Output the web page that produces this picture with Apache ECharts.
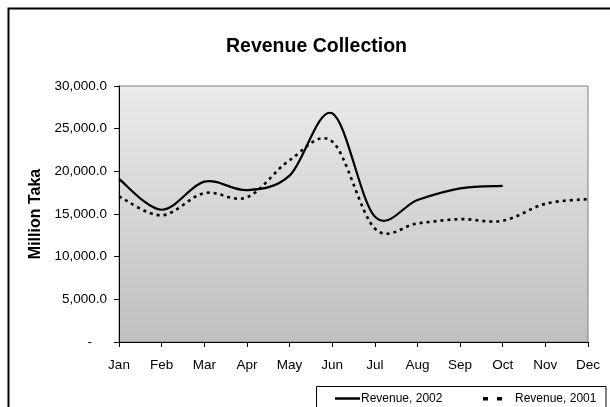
<!DOCTYPE html>
<html>
<head>
<meta charset="utf-8">
<script src="https://cdn.jsdelivr.net/npm/echarts@6/dist/echarts.min.js"></script>
<style>
  html, body { margin: 0; padding: 0; background: #fff; }
  #chart { width: 610px; height: 407px; }
</style>
</head>
<body>
<div id="chart"></div>
<script>
// Monthly revenue collection, million Taka
const months = ['Jan', 'Feb', 'Mar', 'Apr', 'May', 'Jun', 'Jul', 'Aug', 'Sep', 'Oct', 'Nov', 'Dec'];
const revenue2002 = [19100, 15500, 18800, 17800, 19500, 26800, 14700, 16650, 18000, 18300, null, null];
const revenue2001 = [17050, 14850, 17450, 16950, 21300, 23500, 13300, 13900, 14400, 14200, 16200, 16750];
const seriesNames = ['Revenue, 2002', 'Revenue, 2001'];
const yTicks = [0, 5000, 10000, 15000, 20000, 25000, 30000];

const font = 'Arial, "Liberation Sans", sans-serif';

function fmt(v) {
  if (v === 0) return '-    ';
  return v.toLocaleString('en-US', { minimumFractionDigits: 1, maximumFractionDigits: 1 });
}

// Smooth curve through every point (Catmull-Rom converted to cubic Bezier),
// with coordinates taken from the chart's own axes.
function smoothRenderer(values, lineStyle) {
  return function (params, api) {
    if (params.dataIndex !== 0) return null;
    const pts = [];
    values.forEach(function (v, i) {
      if (v !== null && v !== undefined) pts.push(api.coord([i, v]));
    });
    if (pts.length < 2) return null;
    let d = 'M' + pts[0][0] + ' ' + pts[0][1];
    for (let i = 0; i < pts.length - 1; i++) {
      const p0 = pts[Math.max(i - 1, 0)];
      const p1 = pts[i];
      const p2 = pts[i + 1];
      const p3 = pts[Math.min(i + 2, pts.length - 1)];
      const c1x = p1[0] + (p2[0] - p0[0]) / 6;
      const c1y = p1[1] + (p2[1] - p0[1]) / 6;
      const c2x = p2[0] - (p3[0] - p1[0]) / 6;
      const c2y = p2[1] - (p3[1] - p1[1]) / 6;
      d += ' C' + c1x + ' ' + c1y + ' ' + c2x + ' ' + c2y + ' ' + p2[0] + ' ' + p2[1];
    }
    return {
      type: 'path',
      shape: { pathData: d },
      style: Object.assign({ fill: null, stroke: '#000' }, lineStyle)
    };
  };
}

const chart = echarts.init(document.getElementById('chart'));
chart.setOption({
  animation: false,
  backgroundColor: '#fff',
  textStyle: { fontFamily: font, color: '#000' },
  title: {
    text: 'Revenue Collection',
    left: 221,
    top: 32,
    textStyle: { fontFamily: font, fontSize: 19.5, fontWeight: 'bold', color: '#000' }
  },
  graphic: [
    // chart frame
    { type: 'rect', shape: { x: 8.5, y: 8.5, width: 640, height: 440 },
      style: { fill: null, stroke: '#000', lineWidth: 2 }, silent: true, z: 100 },
    // legend box with its two keys
    { type: 'group', silent: true, z: 100, children: [
      { type: 'rect', shape: { x: 316.5, y: 386.5, width: 289.5, height: 40 },
        style: { fill: '#fff', stroke: '#000', lineWidth: 1 } },
      { type: 'line', shape: { x1: 335, y1: 398.5, x2: 360, y2: 398.5 },
        style: { stroke: '#000', lineWidth: 2.5 } },
      { type: 'text', x: 361, y: 399,
        style: { text: seriesNames[0], font: '12px ' + font, fill: '#000', textVerticalAlign: 'middle' } },
      { type: 'rect', shape: { x: 483, y: 397, width: 5, height: 3.5 }, style: { fill: '#000' } },
      { type: 'rect', shape: { x: 497, y: 397, width: 5, height: 3.5 }, style: { fill: '#000' } },
      { type: 'text', x: 515, y: 399,
        style: { text: seriesNames[1], font: '12px ' + font, fill: '#000', textVerticalAlign: 'middle' } }
    ] }
  ],
  grid: {
    left: 119,
    right: 22,
    top: 86,
    bottom: 65,
    show: true,
    borderColor: '#808080',
    borderWidth: 1,
    backgroundColor: new echarts.graphic.LinearGradient(0, 0, 0, 1, [
      { offset: 0, color: '#ebebeb' },
      { offset: 1, color: '#bfbfbf' }
    ])
  },
  xAxis: {
    type: 'category',
    data: months,
    boundaryGap: false,
    axisLine: { lineStyle: { color: '#000', width: 1 } },
    axisTick: { show: true, length: 5, lineStyle: { color: '#000' } },
    axisLabel: { fontFamily: font, fontSize: 13.5, color: '#000', margin: 16 },
    splitLine: { show: false }
  },
  yAxis: {
    type: 'value',
    min: 0,
    max: 30000,
    interval: 5000,
    name: 'Million Taka',
    nameLocation: 'middle',
    nameGap: 75,
    nameTextStyle: { fontFamily: font, fontSize: 16, fontWeight: 'bold', color: '#000' },
    axisLine: { show: true, lineStyle: { color: '#000', width: 1 } },
    axisTick: { show: true, length: 5, lineStyle: { color: '#000' } },
    axisLabel: {
      fontFamily: font, fontSize: 13.5, color: '#000', margin: 12,
      formatter: function (v) { return yTicks.indexOf(v) >= 0 ? fmt(v) : ''; }
    },
    splitLine: { show: false }
  },
  series: [
    {
      name: seriesNames[0],
      type: 'custom',
      data: revenue2002.map(function (v, i) { return [i, v]; }),
      encode: { x: 0, y: 1 },
      renderItem: smoothRenderer(revenue2002, { lineWidth: 2.2 }),
      z: 3
    },
    {
      name: seriesNames[1],
      type: 'custom',
      data: revenue2001.map(function (v, i) { return [i, v]; }),
      encode: { x: 0, y: 1 },
      renderItem: smoothRenderer(revenue2001, { lineWidth: 2.6, lineDash: [3, 4] }),
      z: 2
    }
  ]
});
</script>
</body>
</html>
